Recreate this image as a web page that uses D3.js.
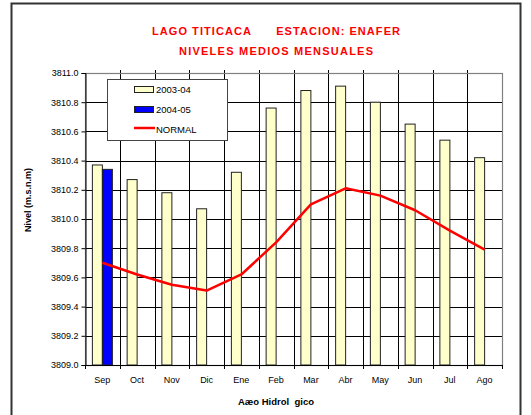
<!DOCTYPE html>
<html><head><meta charset="utf-8">
<script src="https://cdn.jsdelivr.net/npm/d3@7"></script>
<style>html,body{margin:0;padding:0;background:#fff;}svg{display:block;}text{font-family:"Liberation Sans",Arial,sans-serif;}</style>
</head><body>
<script>
const months = ["Sep","Oct","Nov","Dic","Ene","Feb","Mar","Abr","May","Jun","Jul","Ago"];
const serie2003 = [3810.37,3810.27,3810.18,3810.07,3810.32,3810.76,3810.88,3810.91,3810.80,3810.65,3810.54,3810.42];
const serie2004 = [3810.34,null,null,null,null,null,null,null,null,null,null,null];
const normal = [3809.70,3809.62,3809.55,3809.51,3809.62,3809.84,3810.10,3810.21,3810.16,3810.06,3809.92,3809.79];
const seriesNames = ["2003-04","2004-05","NORMAL"];
const yTicks = [3809.0,3809.2,3809.4,3809.6,3809.8,3810.0,3810.2,3810.4,3810.6,3810.8,3811.0];

const W=531,H=415;
const svg=d3.select("body").append("svg").attr("width",W).attr("height",H);
svg.append("rect").attr("width",W).attr("height",H).attr("fill","#fff");
// outer frame
svg.append("rect").attr("x",11.5).attr("y",3.5).attr("width",509).attr("height",430)
  .attr("fill","none").attr("stroke","#333").attr("stroke-width",2);

const L=85,R=502,T=73,B=365;
const x=d3.scaleBand().domain(months).range([L,R]);
const xi=d3.scaleBand().domain(["2003-04","2004-05"]).range([0,x.bandwidth()]).paddingInner(0).paddingOuter(0.7375);
const y=d3.scaleLinear().domain([3809,3811]).range([B,T]);

// horizontal grid
svg.append("g").selectAll("line").data(yTicks).join("line")
  .attr("x1",L).attr("x2",R).attr("y1",d=>Math.round(y(d))+0.5).attr("y2",d=>Math.round(y(d))+0.5)
  .attr("stroke","#000").attr("stroke-width",1);
// vertical grid at category boundaries
const bounds=months.map(m=>x(m)).concat([R]);
svg.append("g").selectAll("line").data(bounds.slice(1,-1)).join("line")
  .attr("x1",d=>Math.round(d)+0.5).attr("x2",d=>Math.round(d)+0.5).attr("y1",T-3).attr("y2",B)
  .attr("stroke","#000").attr("stroke-width",1);
// plot border (gray)
svg.append("rect").attr("x",L+0.5).attr("y",T+0.5).attr("width",R-L).attr("height",B-T)
  .attr("fill","none").attr("stroke","#808080").attr("stroke-width",1.2);

// bars
const bars=[];
months.forEach((m,i)=>{
  if(serie2003[i]!=null) bars.push({m,s:"2003-04",v:serie2003[i],c:"#FFFFCC"});
  if(serie2004[i]!=null) bars.push({m,s:"2004-05",v:serie2004[i],c:"#0000FF"});
});
svg.append("g").selectAll("rect").data(bars).join("rect")
  .attr("x",d=>x(d.m)+xi(d.s)).attr("width",xi.bandwidth())
  .attr("y",d=>y(d.v)).attr("height",d=>B-y(d.v))
  .attr("fill",d=>d.c).attr("stroke","#222").attr("stroke-width",1);

// normal line
const line=d3.line().x((d,i)=>x(months[i])+x.bandwidth()/2).y(d=>y(d));
svg.append("path").datum(normal).attr("d",line).attr("fill","none")
  .attr("stroke","#FF0000").attr("stroke-width",2.5).attr("stroke-linejoin","round");

// axes
const yAxis=d3.axisLeft(y).tickValues(yTicks).tickFormat(d3.format(".1f")).tickSize(4).tickPadding(3);
const gy=svg.append("g").attr("transform",`translate(${L+0.5},0)`).call(yAxis);
gy.select(".domain").attr("stroke","#000");
gy.selectAll("text").attr("font-size",9).attr("fill","#000").attr("font-family","Liberation Sans, Arial, sans-serif");
gy.selectAll(".tick line").attr("stroke","#000");
// x axis line and boundary ticks
svg.append("line").attr("x1",L).attr("x2",R+1).attr("y1",B+0.5).attr("y2",B+0.5).attr("stroke","#000");
svg.append("g").selectAll("line").data(bounds).join("line")
  .attr("x1",d=>Math.round(d)+0.5).attr("x2",d=>Math.round(d)+0.5).attr("y1",B).attr("y2",B+4)
  .attr("stroke","#000");
svg.append("g").selectAll("text").data(months).join("text")
  .attr("x",d=>x(d)+x.bandwidth()/2).attr("y",383).attr("text-anchor","middle")
  .attr("font-size",9).attr("fill","#000").text(d=>d);

// axis titles
svg.append("text").attr("transform","translate(31,200) rotate(-90)").attr("text-anchor","middle")
  .attr("font-size",9).attr("font-weight","bold").text("Nivel (m.s.n.m)");
svg.append("text").attr("x",238).attr("y",405).attr("font-size",9.5).attr("font-weight","bold")
  .attr("xml:space","preserve").style("white-space","pre").text("Aæo Hidrol  gico");

// title
svg.append("text").attr("x",152).attr("y",35).attr("font-size",11).attr("font-weight","bold").attr("fill","#FF0000")
  .style("white-space","pre").attr("textLength",248).attr("lengthAdjust","spacing")
  .text("LAGO TITICACA      ESTACION: ENAFER");
svg.append("text").attr("x",179).attr("y",55).attr("font-size",11).attr("font-weight","bold").attr("fill","#FF0000")
  .attr("textLength",194).attr("lengthAdjust","spacing")
  .text("NIVELES MEDIOS MENSUALES");

// legend
const lg=svg.append("g");
lg.append("rect").attr("x",107.5).attr("y",79.5).attr("width",120).attr("height",61)
  .attr("fill","#fff").attr("stroke","#444").attr("stroke-width",1);
const legItems=[{n:seriesNames[0],c:"#FFFFCC",t:"bar"},{n:seriesNames[1],c:"#0000FF",t:"bar"},{n:seriesNames[2],c:"#FF0000",t:"line"}];
legItems.forEach((d,i)=>{
  const cy=89.5+i*20;
  if(d.t==="bar"){
    lg.append("rect").attr("x",134.5).attr("y",cy-3).attr("width",19).attr("height",6)
      .attr("fill",d.c).attr("stroke","#222");
  } else {
    lg.append("line").attr("x1",134).attr("x2",155).attr("y1",cy-1.5).attr("y2",cy-1.5)
      .attr("stroke",d.c).attr("stroke-width",2.5);
  }
  lg.append("text").attr("x",156).attr("y",cy+3).attr("font-size",9.5).attr("fill","#000").text(d.n);
});
</script>
</body></html>
